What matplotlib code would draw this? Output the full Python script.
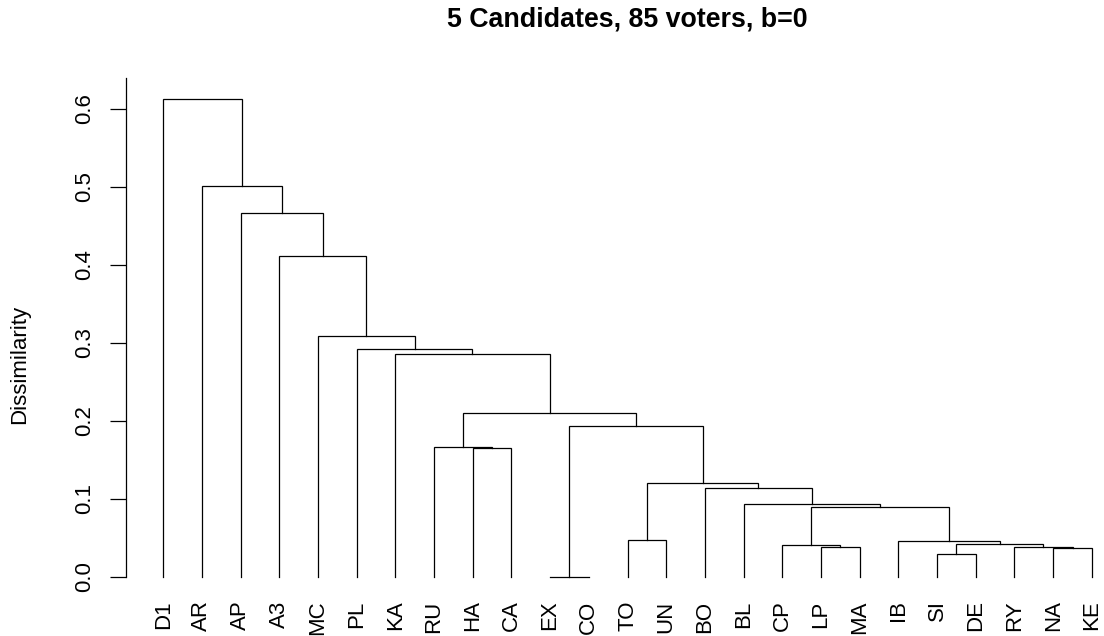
import numpy as np
import matplotlib.pyplot as plt

plt.rcParams['font.family'] = ['Liberation Sans', 'DejaVu Sans']

title = '5 Candidates, 85 voters, b=0'
labels = ['D1', 'AR', 'AP', 'A3', 'MC', 'PL', 'KA', 'RU', 'HA', 'CA', 'EX', 'CO', 'TO',
          'UN', 'BO', 'BL', 'CP', 'LP', 'MA', 'IB', 'SI', 'DE', 'RY', 'NA', 'KE']

# hclust style merges: negative = leaf (position in plot order), positive = earlier merge
merge_left = [-11, -21, -24, -18, -23, -17, 2, -20, -13, 6, -16, -15, 9,
              -9, -8, 1, 15, -7, -6, -5, -4, -3, -2, -1]
merge_right = [-12, -22, -25, -19, 3, 4, 5, 7, -14, 8, 10, 11, 12,
               -10, 14, 13, 16, 17, 18, 19, 20, 21, 22, 23]
merge_height = [0.0, 0.029, 0.0375, 0.0389, 0.0390, 0.0414, 0.0423, 0.0466, 0.047,
                0.0895, 0.0933, 0.1137, 0.1205, 0.165, 0.167, 0.193, 0.210, 0.2863,
                0.2923, 0.3094, 0.411, 0.467, 0.501, 0.6124]

W, H = 1104, 636
fig = plt.figure(figsize=(W / 100, H / 100), dpi=100)
# plot region in pixels (right side runs past the picture edge, as in the original)
left, right, top, bottom = 126, 1129, 78, 597
y0 = 577  # pixel of height 0
scale = 780.0  # pixels per unit of height
ax = fig.add_axes([left / W, (H - bottom) / H, (right - left) / W, (bottom - top) / H])

n = len(labels)
ext = 0.04 * (n - 1)
ax.set_xlim(1 - ext, n + ext)
ax.set_ylim(-(bottom - y0) / scale, (y0 - top) / scale)


def node(i):
    # x position and height of a leaf or merge
    if i < 0:
        return -i, 0.0
    return xs[i - 1], merge_height[i - 1]


xs = []
for a, b, h in zip(merge_left, merge_right, merge_height):
    xa, ha = node(a)
    xb, hb = node(b)
    ax.plot([xa, xa, xb, xb], [ha, h, h, hb], color='black', lw=0.9, solid_joinstyle='miter')
    xs.append((xa + xb) / 2)

for s in ['top', 'right', 'bottom']:
    ax.spines[s].set_visible(False)
ax.spines['left'].set_bounds(0, ax.get_ylim()[1])
ax.spines['left'].set_linewidth(0.9)

yt = np.arange(0, 0.61, 0.1)
ax.set_yticks(yt)
ax.set_yticklabels([f'{v:.1f}' for v in yt], rotation=90, va='center', fontsize=16)
ax.tick_params(axis='y', length=11.5, width=0.9, pad=11)

ax.set_xticks(np.arange(1, n + 1))
ax.set_xticklabels(labels, rotation=90, fontsize=16)
ax.tick_params(axis='x', length=0, pad=2.5)

fig.text(627.5 / W, 1 - 26.7 / H, title, ha='center', va='baseline', fontsize=19.3, fontweight='bold')
fig.text(20 / W, 1 - 364 / H, 'Dissimilarity', rotation=90, ha='center', va='center', fontsize=16)

fig.savefig('out.png', dpi=100)
